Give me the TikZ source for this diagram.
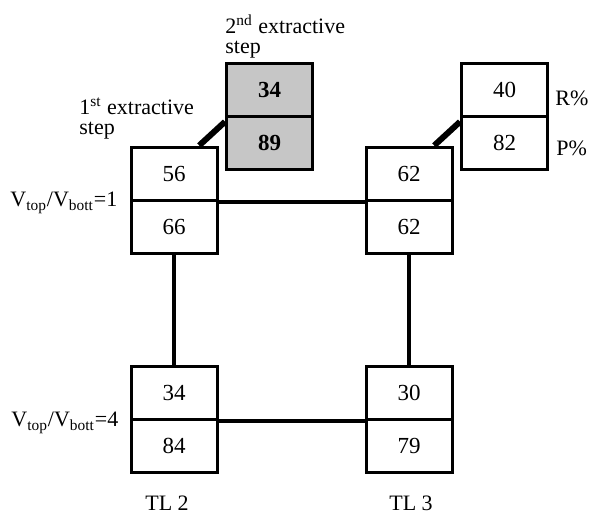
\documentclass[tikz,border=0pt]{standalone}
\usepackage{fontspec}
\setmainfont{Liberation Serif}
\begin{document}
\begin{tikzpicture}[x=0.5pt,y=-0.5pt,
	cell/.style = {rectangle, draw, line width=1.5pt, minimum width=43pt, minimum height=26.5pt, inner sep=0pt, font=\rmfamily\fontsize{11.5}{12}\selectfont},
	lbl/.style = {inner sep=0pt, align=left, font=\rmfamily\fontsize{11}{10}\selectfont},
	link/.style = {line width=2pt},
	step link/.style = {line width=3pt}]
	\useasboundingbox (0,0) rectangle (592,514);
	% TL 2 and TL 3 cells
	\node (A1) at (174, 173.5)	[cell]	{56};
	\node (A2) at (174, 226.5)	[cell]	{66};
	\node (B1) at (409, 173.5)	[cell]	{62};
	\node (B2) at (409, 226.5)	[cell]	{62};
	\node (C1) at (174, 392.5)	[cell]	{34};
	\node (C2) at (174, 445.5)	[cell]	{84};
	\node (F1) at (409, 392.5)	[cell]	{30};
	\node (F2) at (409, 445.5)	[cell]	{79};
	% second extractive step
	\node (D1) at (269.5, 89.5)	[cell, fill = gray!45]	{\bfseries 34};
	\node (D2) at (269.5, 142.5)	[cell, fill = gray!45]	{\bfseries 89};
	\node (E1) at (504.5, 89.5)	[cell]	{40};
	\node (E2) at (504.5, 142.5)	[cell]	{82};
	% labels
	\node (L2nd) at (225, 14)	[lbl, anchor = north west]	{2\textsuperscript{nd} extractive\\step};
	\node (L1st) at (79, 97)	[lbl, anchor = north west]	{1\textsuperscript{st} extractive\\step};
	\node (V1) at (10, 203)	[lbl, anchor = west]	{V\textsubscript{top}/V\textsubscript{bott}=1};
	\node (V4) at (11, 423)	[lbl, anchor = west]	{V\textsubscript{top}/V\textsubscript{bott}=4};
	\node (R) at (555, 98)	[lbl, anchor = west]	{R\%};
	\node (P) at (556, 148)	[lbl, anchor = west]	{P\%};
	\node (TL2) at (167, 503)	[lbl]	{TL 2};
	\node (TL3) at (411, 503)	[lbl]	{TL 3};
	% connectors
	\draw[link] (A1.south east) -- (B1.south west);
	\draw[link] (C1.south east) -- (F1.south west);
	\draw[link] (A2.south) -- (C1.north);
	\draw[link] (B2.south) -- (F1.north);
	\draw[step link] (A1.48) -- (D2.155);
	\draw[step link] (B1.48) -- (E2.155);
\end{tikzpicture}
\end{document}
